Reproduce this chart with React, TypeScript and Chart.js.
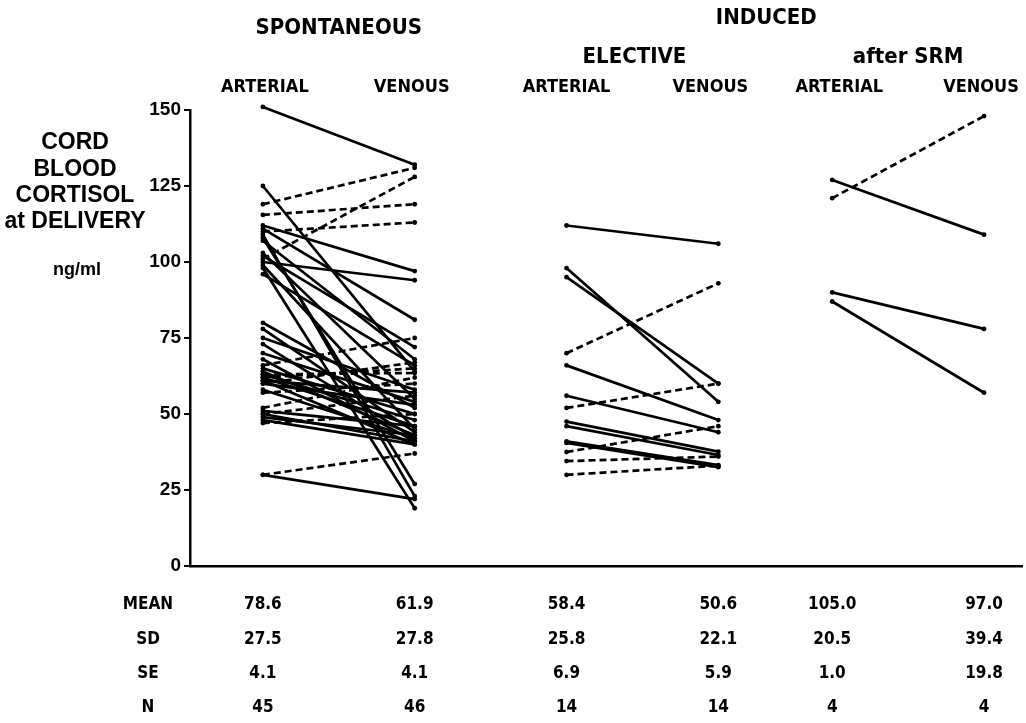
import React, { useEffect, useRef } from "react";
import { Chart, registerables } from "chart.js";

Chart.register(...registerables);

// Column positions on the x scale (categorical slots)
const COLUMN_X = [0, 1, 2, 3, 3.75, 4.75];
const COLUMN_LABELS = ["ARTERIAL", "VENOUS", "ARTERIAL", "VENOUS", "ARTERIAL", "VENOUS"];
const GROUP_LABELS = ["SPONTANEOUS", "INDUCED"];
const SUBGROUP_LABELS = ["ELECTIVE", "after SRM"];
const Y_TITLE = ["CORD", "BLOOD", "CORTISOL", "at DELIVERY"];
const Y_UNIT = "ng/ml";
const Y_TICKS = [0, 25, 50, 75, 100, 125, 150];

// Spontaneous delivery: paired arterial / venous cord cortisol (ng/ml)
const spontArterial = [151, 125, 119, 115.5, 112, 111, 110, 109, 108, 107, 103, 102, 101, 100, 99, 98, 96, 80, 78, 75, 73, 70, 68, 66, 65, 64, 63, 63, 62, 62, 61, 61, 60, 60, 58, 57, 52, 51, 50, 50, 49, 48, 47, 30, 30];
const spontVenous = [132, 64, 131, 119, 97, 81, 113, 23, 27, 68, 55, 72, 128, 94, 45, 19, 66, 52, 44, 58, 42, 54, 41, 75, 50, 43, 63.5, 48, 65, 46, 57, 40, 67, 53, 42, 60, 62, 46, 41, 56, 43, 40, 50, 37, 22];

// Induced, elective
const electiveArterial = [112, 98, 95, 70, 66, 56, 52, 47.5, 46, 41, 40.5, 37.5, 34.5, 30];
const electiveVenous = [106, 54, 60, 93, 48, 44, 60, 37.6, 36.5, 33.2, 32.5, 46, 36, 33];

// Induced after SRM
const srmArterial = [121, 127, 90, 87];
const srmVenous = [148, 109, 78, 57];

// Summary statistics
const STAT_ROWS = ["MEAN", "SD", "SE", "N"];
const MEAN = ["78.6", "61.9", "58.4", "50.6", "105.0", "97.0"];
const SD = ["27.5", "27.8", "25.8", "22.1", "20.5", "39.4"];
const SE = ["4.1", "4.1", "6.9", "5.9", "1.0", "19.8"];
const N = ["45", "46", "14", "14", "4", "4"];

const NARROW = "'Liberation Sans Narrow', 'DejaVu Sans Condensed', 'Liberation Sans', sans-serif";
const WIDE = "'Liberation Sans', Arial, 'DejaVu Sans', sans-serif";

function buildDatasets() {
  const groups = [
    { a: spontArterial, v: spontVenous, xa: COLUMN_X[0], xv: COLUMN_X[1] },
    { a: electiveArterial, v: electiveVenous, xa: COLUMN_X[2], xv: COLUMN_X[3] },
    { a: srmArterial, v: srmVenous, xa: COLUMN_X[4], xv: COLUMN_X[5] },
  ];
  const ds: any[] = [];
  groups.forEach((g) => {
    g.a.forEach((av, i) => {
      const vv = g.v[i];
      const rising = vv > av;
      ds.push({
        data: [
          { x: g.xa, y: av },
          { x: g.xv, y: vv },
        ],
        borderColor: "#000",
        backgroundColor: "#000",
        borderWidth: 2.7,
        borderDash: rising ? [7, 4] : [],
        pointRadius: 2.4,
        pointBorderWidth: 0,
        pointBackgroundColor: "#000",
        clip: false,
        tension: 0,
      });
    });
  });
  return ds;
}

const textPlugin = {
  id: "cortisolText",
  afterDraw(chart: any) {
    const ctx = chart.ctx;
    const xs = chart.scales.x;
    const px = (v: number) => xs.getPixelForValue(v);
    ctx.save();
    ctx.fillStyle = "#000";
    ctx.textAlign = "center";
    ctx.textBaseline = "middle";

    // Group headers
    ctx.font = `bold 22px ${NARROW}`;
    ctx.fillText(GROUP_LABELS[0], (px(COLUMN_X[0]) + px(COLUMN_X[1])) / 2, 28);
    ctx.fillText(GROUP_LABELS[1], (px(COLUMN_X[2]) + px(COLUMN_X[5])) / 2 - 9, 18);
    ctx.fillText(SUBGROUP_LABELS[0], (px(COLUMN_X[2]) + px(COLUMN_X[3])) / 2 - 8, 57);
    ctx.fillText(SUBGROUP_LABELS[1], (px(COLUMN_X[4]) + px(COLUMN_X[5])) / 2, 57);

    // Column headers
    ctx.font = `bold 18px ${NARROW}`;
    const colOffsets = [2, -3, 0, -8, 7, -3];
    COLUMN_LABELS.forEach((l, i) => ctx.fillText(l, px(COLUMN_X[i]) + colOffsets[i], 87));

    // Y title
    ctx.font = `bold 23px ${WIDE}`;
    const titleY = [143, 170, 196, 222];
    Y_TITLE.forEach((l, i) => ctx.fillText(l, 75, titleY[i]));
    ctx.font = `bold 18px ${WIDE}`;
    ctx.fillText(Y_UNIT, 77, 270);

    // Statistics table
    const rowY = [605, 640, 674, 708];
    const rows = [MEAN, SD, SE, N];
    ctx.font = `bold 17px ${NARROW}`;
    STAT_ROWS.forEach((l, r) => {
      ctx.fillText(l, 148, rowY[r]);
      rows[r].forEach((val, i) => ctx.fillText(val, px(COLUMN_X[i]), rowY[r]));
    });
    ctx.restore();
  },
};

export default function App() {
  const ref = useRef<HTMLCanvasElement | null>(null);

  useEffect(() => {
    document.body.style.margin = "0";
    if (!ref.current) return;
    const chart = new Chart(ref.current, {
      type: "line",
      data: { datasets: buildDatasets() },
      options: {
        animation: false,
        responsive: false,
        events: [],
        layout: { padding: { top: 110, bottom: 155, left: 0, right: 0 } },
        plugins: { legend: { display: false }, tooltip: { enabled: false } },
        scales: {
          x: {
            type: "linear",
            min: -0.48,
            max: 5.0,
            ticks: { display: false },
            grid: { display: false },
            border: { display: true, color: "#000", width: 2.5 },
            afterFit: (s: any) => {
              s.height = 2;
            },
          },
          y: {
            type: "linear",
            min: 0,
            max: 150,
            afterBuildTicks: (s: any) => {
              s.ticks = Y_TICKS.map((v) => ({ value: v }));
            },
            ticks: {
              color: "#000",
              font: { family: WIDE, weight: "bold", size: 19 },
              padding: 3,
            },
            grid: {
              drawOnChartArea: false,
              drawTicks: true,
              tickLength: 6,
              color: "#000",
              lineWidth: 2,
            },
            border: { display: true, color: "#000", width: 2.5 },
            afterFit: (s: any) => {
              s.width = 190;
            },
          },
        },
      },
      plugins: [textPlugin],
    });
    return () => chart.destroy();
  }, []);

  return (
    <div style={{ width: 1026, height: 723, background: "#fff" }}>
      <canvas ref={ref} width={1026} height={723} style={{ display: "block" }} />
    </div>
  );
}
